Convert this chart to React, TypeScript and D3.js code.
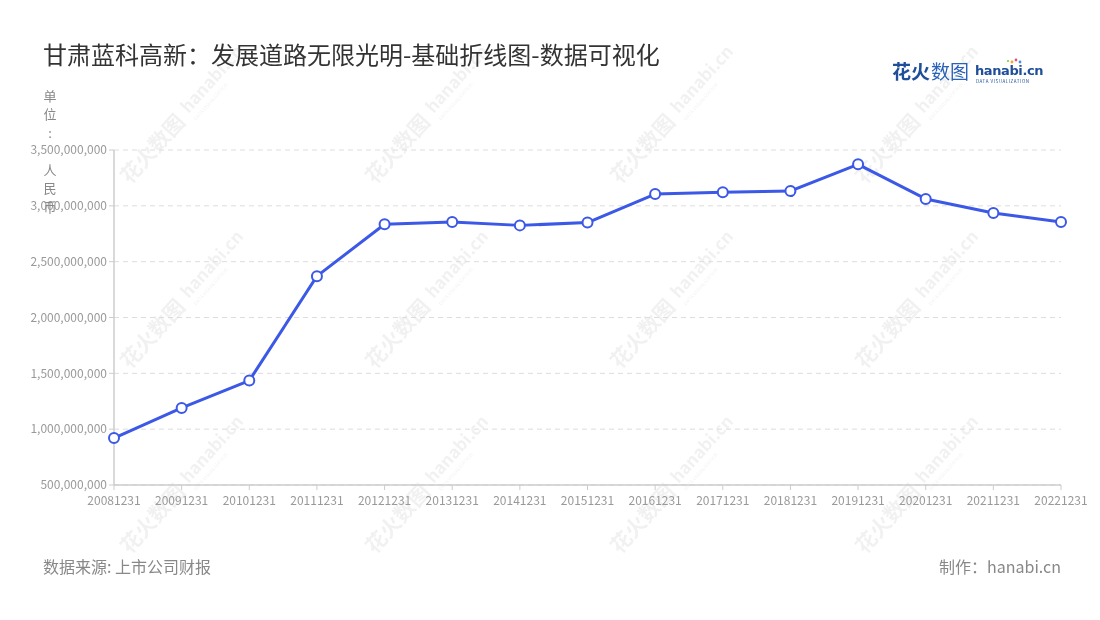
import React from "react";
import * as d3 from "d3";

const categories = [
  "20081231", "20091231", "20101231", "20111231", "20121231", "20131231", "20141231",
  "20151231", "20161231", "20171231", "20181231", "20191231", "20201231", "20211231", "20221231",
];
const values = [
  0.92e9, 1.19e9, 1.435e9, 2.37e9, 2.835e9, 2.855e9, 2.825e9,
  2.85e9, 3.105e9, 3.122e9, 3.132e9, 3.372e9, 3.062e9, 2.935e9, 2.855e9,
];
const yTicks = [5e8, 1e9, 1.5e9, 2e9, 2.5e9, 3e9, 3.5e9];
const titleText = "甘肃蓝科高新：发展道路无限光明-基础折线图-数据可视化";
const unitChars = ["单", "位", ":", " ", "人", "民", "币"];
const sourceText = "数据来源: 上市公司财报";
const makerText = "制作：hanabi.cn";

const W = 1100;
const H = 620;
const left = 114;
const right = 1061;
const top = 150;
const bottom = 485;
const FONT = "'Noto Sans CJK SC', 'Noto Sans', sans-serif";

export default function App() {
  const x = d3.scalePoint<string>().domain(categories).range([left, right]);
  const y = d3.scaleLinear().domain([5e8, 3.5e9]).range([bottom, top]);
  const line = d3
    .line<number>()
    .x((_, i) => x(categories[i]) as number)
    .y((d) => y(d));
  const fmt = d3.format(",");

  const wmCols = [130, 375, 620, 865];
  const wmRows = [185, 370, 555];

  return (
    <svg
      width={W}
      height={H}
      style={{ position: "absolute", left: 0, top: 0, background: "#fff" }}
      fontFamily={FONT}
    >
      <rect x={0} y={0} width={W} height={H} fill="#fff" />
      {/* watermarks */}
      <g opacity={0.055} pointerEvents="none">
        {wmRows.map((ry) =>
          wmCols.map((cx) => (
            <g key={`${cx}-${ry}`} transform={`translate(${cx},${ry}) rotate(-48)`}>
              <text x={0} y={0} fontSize={21} fontWeight={700} fill="#000">
                花火数图
              </text>
              <text x={92} y={-4} fontSize={17} fontWeight={700} fill="#000">
                hanabi.cn
              </text>
              <text x={92} y={6} fontSize={5} fill="#000">
                DATA VISUALIZATION
              </text>
            </g>
          ))
        )}
      </g>

      {/* title */}
      <text x={43} y={64} fontSize={24} fill="#333">
        {titleText}
      </text>

      {/* logo */}
      <g>
        <text x={892} y={79} fontSize={19} fontWeight={700} fill="#1f4e9a">
          花火
        </text>
        <text x={931} y={79} fontSize={19} fill="#2a62b8">
          数图
        </text>
        <text x={975} y={75} fontSize={13} fontWeight={700} fill="#1f4e9a" fontFamily="'DejaVu Sans', sans-serif" letterSpacing={-0.4}>
          hanabi.cn
        </text>
        <text x={976} y={83} fontSize={4.5} fill="#1f4e9a" letterSpacing={0.55}>
          DATA VISUALIZATION
        </text>
        <circle cx={1012} cy={62} r={1.4} fill="#f5a623" />
        <circle cx={1016} cy={60} r={1.4} fill="#e94e77" />
        <circle cx={1020} cy={62} r={1.4} fill="#4a90e2" />
        <circle cx={1008} cy={61} r={1.1} fill="#7ed321" />
      </g>

      {/* grid */}
      {yTicks.map((t) => (
        <line
          key={`g${t}`}
          x1={left}
          x2={right}
          y1={y(t)}
          y2={y(t)}
          stroke="#dddddd"
          strokeDasharray="5,4"
          strokeWidth={1}
        />
      ))}

      {/* y axis */}
      <line x1={left} x2={left} y1={top} y2={bottom} stroke="#cccccc" strokeWidth={1.5} />
      {yTicks.map((t) => (
        <g key={`y${t}`}>
          <line x1={left - 5} x2={left} y1={y(t)} y2={y(t)} stroke="#cccccc" />
          <text
            x={left - 7}
            y={y(t)}
            dy="0.35em"
            textAnchor="end"
            fontSize={12}
            fill="#999"
          >
            {fmt(t)}
          </text>
        </g>
      ))}

      {/* unit */}
      {unitChars.map((c, i) => (
        <text key={`u${i}`} x={50} y={96 + i * 18.5} dy="0.35em" textAnchor="middle" fontSize={13} fill="#888">
          {c}
        </text>
      ))}

      {/* x axis */}
      <line x1={left} x2={right} y1={bottom} y2={bottom} stroke="#cccccc" strokeWidth={1.5} />
      {categories.map((c) => (
        <g key={`x${c}`}>
          <line x1={x(c)} x2={x(c)} y1={bottom} y2={bottom + 5} stroke="#cccccc" />
          <text x={x(c)} y={bottom + 16} dy="0.35em" textAnchor="middle" fontSize={12} fill="#999">
            {c}
          </text>
        </g>
      ))}

      {/* line */}
      <path d={line(values) || ""} fill="none" stroke="#3b58e6" strokeWidth={3} strokeLinejoin="round" />
      {values.map((v, i) => (
        <circle
          key={`p${i}`}
          cx={x(categories[i])}
          cy={y(v)}
          r={5}
          fill="#fff"
          stroke="#3b58e6"
          strokeWidth={2}
        />
      ))}

      {/* footer */}
      <text x={43} y={573} fontSize={16} fill="#888">
        {sourceText}
      </text>
      <text x={1061} y={573} fontSize={16} fill="#888" textAnchor="end">
        {makerText}
      </text>
    </svg>
  );
}
